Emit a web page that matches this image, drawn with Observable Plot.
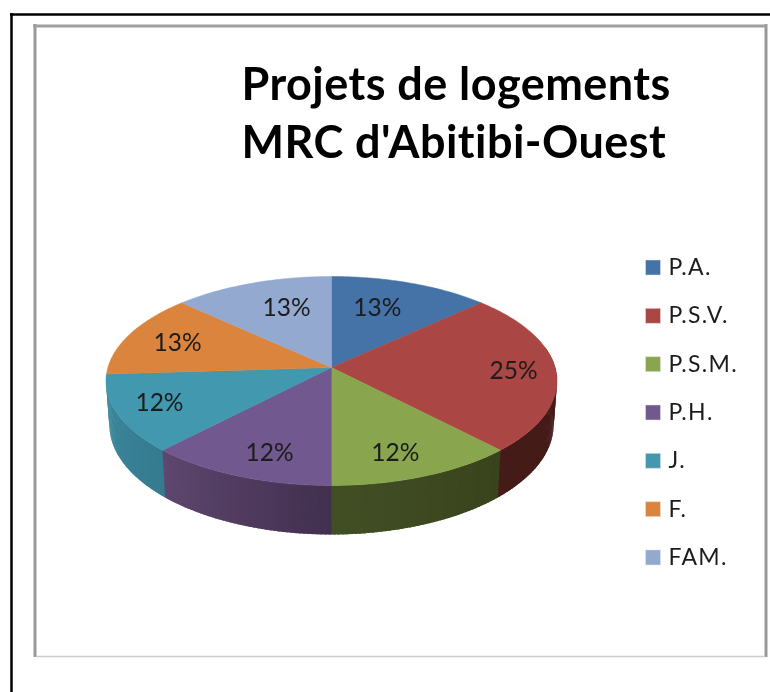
<!DOCTYPE html>
<html>
<head>
<meta charset="utf-8">
<script src="https://cdn.jsdelivr.net/npm/d3@7"></script>
<script src="https://cdn.jsdelivr.net/npm/@observablehq/plot@0.6"></script>
<style>
  html, body { margin: 0; padding: 0; background: #fff; }
  svg { display: block; filter: blur(0.45px); }
  .title-text text { letter-spacing: 0.45px; }
  .legend-text text { letter-spacing: 1.3px; }
</style>
</head>
<body>
<div id="chart"></div>
<script>
// ---- data ----
const titleLines = ["Projets de logements", "MRC d'Abitibi-Ouest"];
const categories = ["P.A.", "P.S.V.", "P.S.M.", "P.H.", "J.", "F.", "FAM."];
const shares = [13, 25, 12, 12, 12, 13, 13];
const topColors = ["#4572a7", "#aa4643", "#89a54e", "#71588f", "#4198af", "#db843d", "#93a9cf"];
// side-wall shades at the start and end of each slice (clockwise)
const sideStart = ["#2c4468", "#451b18", "#39431c", "#42304f", "#357b90", "#8a5020", "#5a6a88"];
const sideEnd   = ["#2c4468", "#451b18", "#424f25", "#5f4870", "#3f8ba0", "#8a5020", "#5a6a88"];
// where each percentage sits: radius, and fraction across the slice
const labelRadius = [0.659, 0.811, 0.798, 0.795, 0.809, 0.75, 0.656];
const labelAlong  = [0.42, 0.511, 0.564, 0.424, 0.516, 0.479, 0.588];

// ---- perspective of the tilted disc ----
const cx = 331, cy = 380.5, A = 223.6, B = 104.5, C = 13.5, p = 0.129;
function face(theta, r = 1) {
  const u = r * Math.sin(theta), v = r * Math.cos(theta), w = 1 + p * v;
  return {X: A * u / w, Y: (B * v + C) / w};
}
const topPt = (theta, r = 1) => { const f = face(theta, r); return {x: cx + f.X, y: cy - f.Y}; };
const botPt = (theta) => { const f = face(theta); return {x: cx + f.X * 0.985, y: cy - f.Y * 1.05 + 43.8}; };

const arcs = d3.pie().sort(null)(shares);
const deg = Math.PI / 180;

// top face polygons
const wedges = arcs.flatMap((a, i) => {
  const n = Math.ceil((a.endAngle - a.startAngle) / deg);
  const pts = [{...topPt(0, 0)}];
  for (let k = 0; k <= n; k++) pts.push(topPt(a.startAngle + (a.endAngle - a.startAngle) * k / n));
  pts.push(topPt(0, 0));
  return pts.map(q => ({...q, id: categories[i], color: topColors[i]}));
});

// side wall, one thin strip per degree so the shade can change along it;
// each strip runs slightly under the next one so no seam shows
const lastSide = arcs[4].endAngle;
const strips = arcs.flatMap((a, i) => {
  const out = [];
  const n = Math.ceil((a.endAngle - a.startAngle) / deg);
  const mix = d3.interpolateRgb(sideStart[i], sideEnd[i]);
  for (let k = 0; k < n; k++) {
    const t0 = a.startAngle + (a.endAngle - a.startAngle) * k / n;
    const t1 = Math.min(lastSide, a.startAngle + (a.endAngle - a.startAngle) * (k + 1) / n + 0.7 * deg);
    if (t1 < 80 * deg || t0 >= lastSide) continue;
    const color = d3.color(mix(k / n)).formatHex();
    const id = categories[i] + k;
    [topPt(t0), topPt(t1), botPt(t1), botPt(t0), topPt(t0)]
      .forEach(q => out.push({...q, id, color}));
  }
  return out;
});

const labels = arcs.map((a, i) => ({
  ...topPt(a.startAngle + (a.endAngle - a.startAngle) * labelAlong[i], labelRadius[i]),
  text: shares[i] + "%"
}));

const legend = categories.map((name, i) => ({name, color: topColors[i], y: 267 + i * 48.33}));
const titleRows = titleLines.map((text, i) => ({text, y: 85 + i * 58}));

const ink = "#1c1c1c";
const chart = Plot.plot({
  width: 770,
  height: 692,
  margin: 0,
  style: {background: "#fff"},
  x: {domain: [0, 770], range: [0, 770], axis: null},
  y: {domain: [0, 692], range: [0, 692], axis: null},
  marks: [
    // outer page frame
    Plot.ruleX([11], {y1: 13, y2: 692, stroke: "#000", strokeWidth: 2.5}),
    Plot.ruleY([14], {x1: 10, x2: 770, stroke: "#000", strokeWidth: 2.5}),
    // chart frame
    Plot.ruleX([34.5], {y1: 24, y2: 657, stroke: "#999", strokeWidth: 3}),
    Plot.ruleX([765.5], {y1: 24, y2: 657, stroke: "#999", strokeWidth: 3}),
    Plot.ruleY([25.5], {x1: 33, x2: 767, stroke: "#a0a0a0", strokeWidth: 3}),
    Plot.ruleY([656], {x1: 36, x2: 764, stroke: "#ccc", strokeWidth: 1.5}),
    // disc
    Plot.line(strips, {x: "x", y: "y", z: "id", fill: "color", stroke: "none", curve: "linear"}),
    Plot.line(wedges, {x: "x", y: "y", z: "id", fill: "color", stroke: "color", strokeWidth: 0.5, curve: "linear"}),
    // slice labels
    Plot.text(labels, {x: "x", y: "y", text: "text", fill: ink, fontFamily: "Lato", fontSize: 24.5, textAnchor: "middle", lineAnchor: "middle"}),
    // title
    Plot.text(titleRows, {x: 241, y: "y", text: "text", fill: "#000", fontFamily: "Lato", fontWeight: 700, fontSize: 45, textAnchor: "start", lineAnchor: "middle", className: "title-text"}),
    // legend
    Plot.dot(legend, {x: 652.5, y: "y", symbol: "square", r: 8.46, fill: "color", stroke: "#e8e8e8", strokeWidth: 0.5}),
    Plot.text(legend, {x: 668, y: "y", text: "name", fill: ink, fontFamily: "Lato", fontSize: 23, textAnchor: "start", lineAnchor: "middle", className: "legend-text"})
  ]
});
document.getElementById("chart").appendChild(chart);
</script>
</body>
</html>
